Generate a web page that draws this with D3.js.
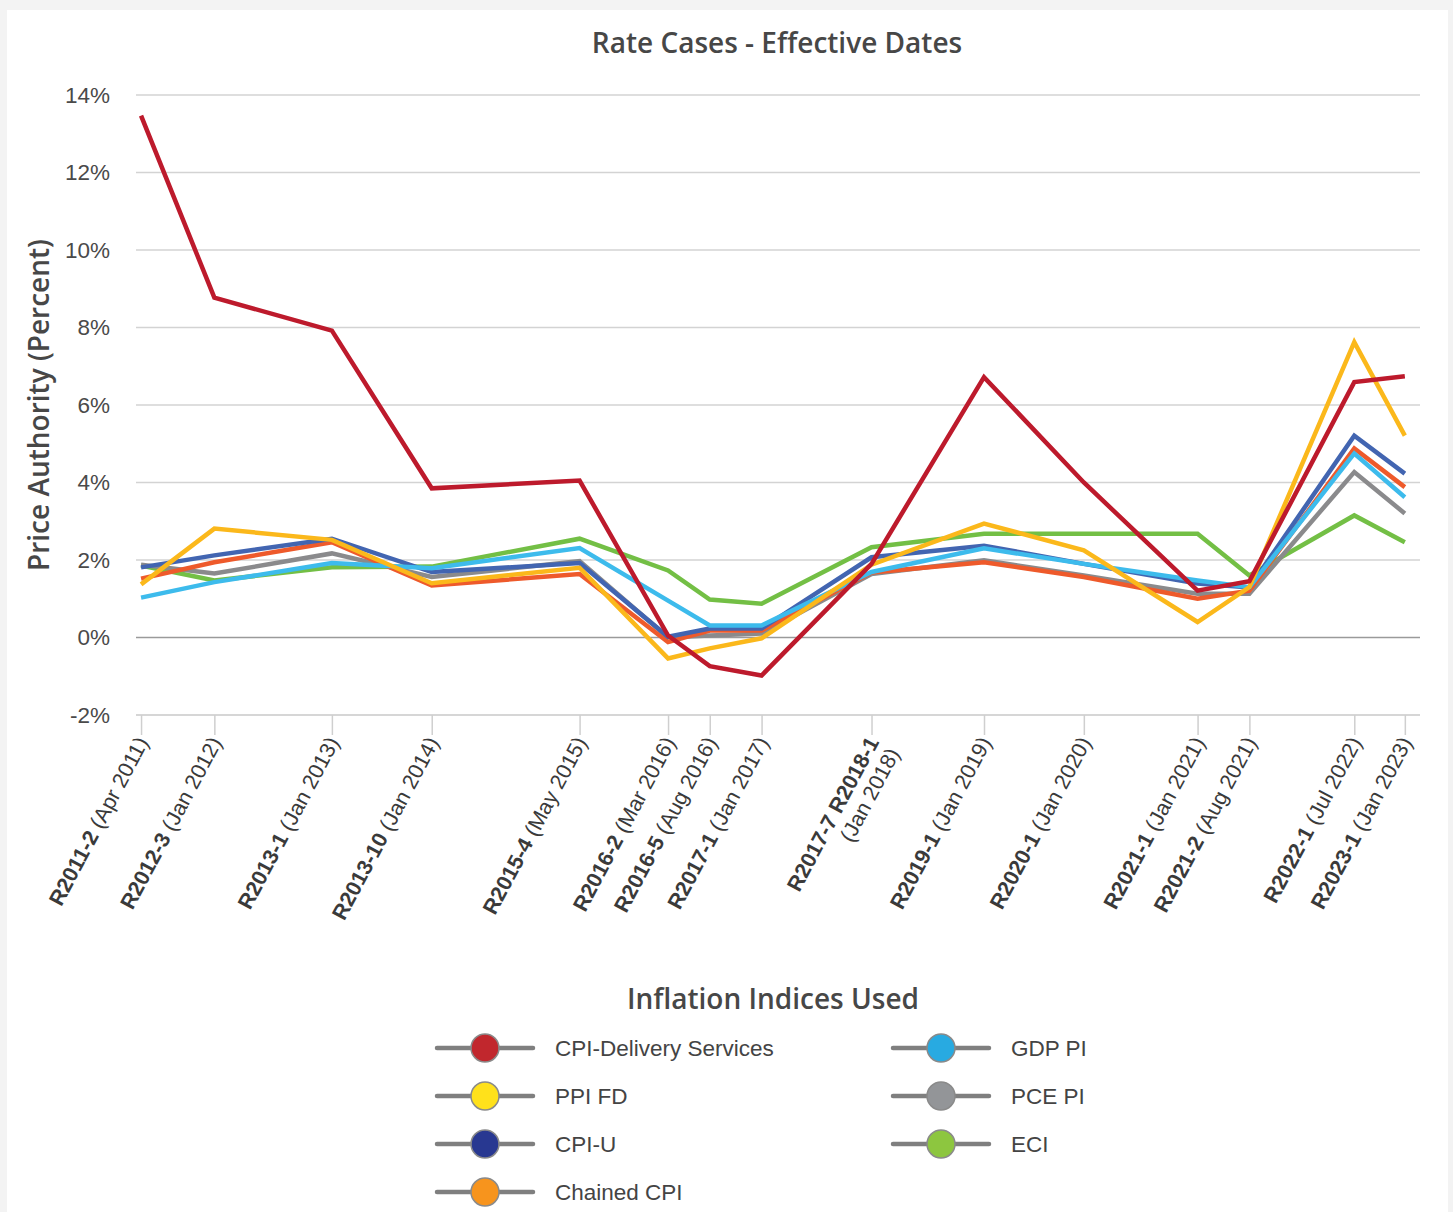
<!DOCTYPE html>
<html>
<head>
<meta charset="utf-8">
<script src="https://cdn.jsdelivr.net/npm/d3@7/dist/d3.min.js"></script>
<style>
  html, body { margin: 0; padding: 0; background: #f3f3f3; }
  svg { display: block; }
</style>
</head>
<body>
<svg id="chart" width="1453" height="1212"></svg>
<script>
// ---------- DATA ----------
const caseCodes = ["R2011-2","R2012-3","R2013-1","R2013-10","R2015-4","R2016-2","R2016-5","R2017-1","R2017-7 R2018-1","R2019-1","R2020-1","R2021-1","R2021-2","R2022-1","R2023-1"];
const caseDates = ["(Apr 2011)","(Jan 2012)","(Jan 2013)","(Jan 2014)","(May 2015)","(Mar 2016)","(Aug 2016)","(Jan 2017)","(Jan 2018)","(Jan 2019)","(Jan 2020)","(Jan 2021)","(Aug 2021)","(Jul 2022)","(Jan 2023)"];
// relative position of each rate case along the axis (0 = first, 100 = last), as spaced in the original
const casePositions = [0, 5.8, 15.1, 23.0, 34.7, 41.7, 45.0, 49.1, 57.8, 66.7, 74.6, 83.6, 87.7, 96.0, 100];

const yTicks = [-2, 0, 2, 4, 6, 8, 10, 12, 14];

const seriesNames  = ["CPI-Delivery Services","PPI FD","CPI-U","Chained CPI","GDP PI","PCE PI","ECI"];
const lineColors   = ["#bd1a2c","#fbb81b","#4265b1","#ee5a2b","#3dbbec","#8a8a8c","#73bf45"];
const legendColors = ["#c1272d","#ffe11b","#283891","#f7941d","#28aae1","#939598","#8dc63f"];

const cpiDelivery = [13.47, 8.77, 7.92, 3.85, 4.05, 0.05, -0.74, -0.98, 1.9, 6.72, 4.0, 1.21, 1.45, 6.59, 6.74];
const ppiFD       = [1.37, 2.81, 2.52, 1.40, 1.80, -0.54, -0.28, -0.02, 1.88, 2.94, 2.25, 0.40, 1.30, 7.62, 5.21];
const cpiU        = [1.81, 2.12, 2.55, 1.69, 1.92, 0.02, 0.23, 0.23, 2.07, 2.37, 1.90, 1.39, 1.29, 5.21, 4.23];
const chainedCPI  = [1.52, 1.94, 2.46, 1.34, 1.64, -0.12, 0.18, 0.18, 1.68, 1.94, 1.56, 1.00, 1.21, 4.88, 3.88];
const gdpPI       = [1.03, 1.43, 1.92, 1.79, 2.31, 0.95, 0.31, 0.31, 1.69, 2.30, 1.90, 1.47, 1.30, 4.75, 3.62];
const pcePI       = [1.88, 1.65, 2.17, 1.56, 1.97, 0.00, 0.05, 0.10, 1.64, 1.99, 1.60, 1.13, 1.13, 4.27, 3.20];
const eci         = [1.86, 1.47, 1.81, 1.83, 2.55, 1.73, 0.98, 0.87, 2.33, 2.68, 2.68, 2.68, 1.60, 3.15, 2.46];

const seriesValues = [cpiDelivery, ppiFD, cpiU, chainedCPI, gdpPI, pcePI, eci];
const drawOrder = [6, 5, 3, 2, 4, 1, 0];

// ---------- CHART ----------
const svg = d3.select("#chart");
const fontFam = "'Open Sans', 'Liberation Sans', Arial, sans-serif";
const axisFont = "'Liberation Sans', Arial, sans-serif";

svg.append("rect").attr("x", 7).attr("y", 10).attr("width", 1441).attr("height", 1210).attr("fill", "#ffffff");

const plotLeft = 136, plotRight = 1420, plotTop = 95, plotBottom = 715;

const x = d3.scaleLinear().domain([-0.4, 101.2]).range([plotLeft, plotRight]);
const y = d3.scaleLinear().domain([-2, 14]).range([plotBottom, plotTop]);

// Title
svg.append("text").attr("x", 777).attr("y", 53).attr("text-anchor", "middle")
  .attr("font-family", fontFam).attr("font-size", 28).attr("font-weight", 600).attr("fill", "#474747")
  .text("Rate Cases - Effective Dates");

// Gridlines
const grid = svg.append("g");
grid.selectAll("line").data(yTicks).join("line")
  .attr("x1", plotLeft).attr("x2", plotRight)
  .attr("y1", d => y(d)).attr("y2", d => y(d))
  .attr("stroke", d => d === 0 ? "#9a9a9a" : (d === -2 ? "#d6d6d6" : "#d3d3d3"))
  .attr("stroke-width", d => d === -2 ? 2 : 1.5);

// Y axis labels
const yAxis = d3.axisLeft(y).tickValues(yTicks).tickFormat(d => d + "%").tickSize(0).tickPadding(0);
const yg = svg.append("g").attr("transform", `translate(110,0)`).call(yAxis);
yg.select(".domain").remove();
yg.selectAll("text").attr("font-family", axisFont).attr("font-size", 22.5).attr("fill", "#4a4a4a");

// Y axis title
svg.append("text").attr("transform", "translate(49,405) rotate(-90)").attr("text-anchor", "middle")
  .attr("font-family", fontFam).attr("font-size", 28).attr("font-weight", 600).attr("fill", "#474747")
  .text("Price Authority (Percent)");

// X ticks via axis
const xAxis = d3.axisBottom(x).tickValues(casePositions).tickSize(20).tickFormat("");
const xg = svg.append("g").attr("transform", `translate(0,${plotBottom})`).call(xAxis);
xg.select(".domain").remove();
xg.selectAll(".tick line").attr("stroke", "#cfcfcf").attr("stroke-width", 1.5);

// X labels (rotated)
const labels = svg.append("g");
casePositions.forEach((p, i) => {
  const t = labels.append("text")
    .attr("transform", `translate(${x(p) + 8},${742}) rotate(-62)`)
    .attr("text-anchor", "end")
    .attr("font-family", axisFont).attr("font-size", 21.5).attr("fill", "#3a3a3a");
  if (caseCodes[i].indexOf(" ") > 0) {
    t.append("tspan").attr("x", 0).attr("dy", 0).attr("font-weight", "bold").text(caseCodes[i]);
    t.append("tspan").attr("x", 0).attr("dy", "1.1em").text(caseDates[i]);
  } else {
    t.append("tspan").attr("font-weight", "bold").text(caseCodes[i]);
    t.append("tspan").text(" " + caseDates[i]);
  }
});

// Lines
const line = d3.line().x((d, i) => x(casePositions[i])).y(d => y(d));
const lg = svg.append("g");
drawOrder.forEach(si => {
  lg.append("path").datum(seriesValues[si])
    .attr("d", line).attr("fill", "none")
    .attr("stroke", lineColors[si]).attr("stroke-width", 4.5)
    .attr("stroke-linejoin", "miter");
});

// Legend
svg.append("text").attr("x", 773).attr("y", 1009).attr("text-anchor", "middle")
  .attr("font-family", fontFam).attr("font-size", 28).attr("font-weight", 600).attr("fill", "#474747")
  .text("Inflation Indices Used");

const legendCols = [437, 893];
const legendRows = [1048, 1096, 1144, 1192];
const leg = svg.append("g");
seriesNames.forEach((name, i) => {
  const col = i < 4 ? 0 : 1;
  const row = i < 4 ? i : i - 4;
  const lx = legendCols[col], ly = legendRows[row];
  const g = leg.append("g").attr("transform", `translate(${lx},${ly})`);
  g.append("line").attr("x1", 0).attr("x2", 96).attr("y1", 0).attr("y2", 0)
    .attr("stroke", "#7f7f7f").attr("stroke-width", 4.5).attr("stroke-linecap", "round");
  g.append("circle").attr("cx", 48).attr("cy", 0).attr("r", 14)
    .attr("fill", legendColors[i]).attr("stroke", "#8a8a8a").attr("stroke-width", 1.5);
  g.append("text").attr("x", 118).attr("y", 8)
    .attr("font-family", axisFont).attr("font-size", 22.5).attr("fill", "#444")
    .text(name);
});
</script>
</body>
</html>
